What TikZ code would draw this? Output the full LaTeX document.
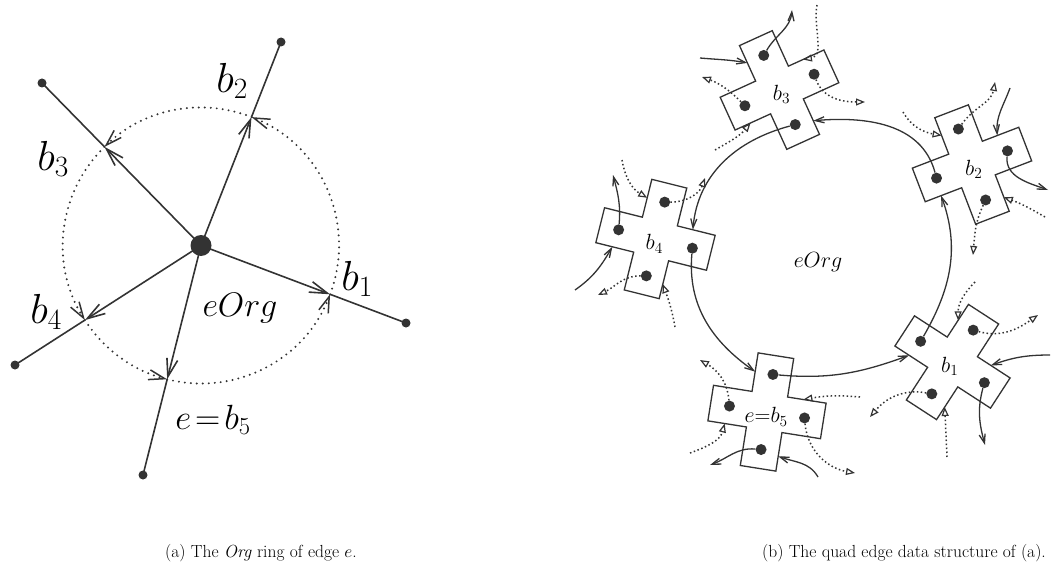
\documentclass[tikz,border=0pt]{standalone}
\usepackage{fix-cm}
\usepackage{tikz}
\usetikzlibrary{arrows.meta,calc}
\definecolor{ink}{HTML}{333333}
\tikzset{
  edgeline/.style={draw=ink,line width=1.6pt},
  edgetip/.style={-{Straight Barb[length=18pt,width=11pt]}},
  ringdot/.style={draw=ink,line width=2.2pt,dash pattern=on 0pt off 6pt,line cap=round,
                  -{Straight Barb[length=16pt,width=10pt,line width=1.5pt,line cap=butt]}},
  vertex/.style={circle,fill=ink,inner sep=0pt,minimum size=9pt},
  origin/.style={circle,fill=ink,inner sep=0pt,minimum size=21pt},
  biglabel/.style={inner sep=0pt,font=\fontsize{42}{44}\selectfont},
  midlabel/.style={inner sep=0pt,font=\fontsize{35}{37}\selectfont},
  orglabel/.style={inner sep=0pt,font=\fontsize{34}{36}\selectfont},
  qlabel/.style={inner sep=0pt,font=\fontsize{22}{24}\selectfont},
  captext/.style={inner sep=0pt,font=\fontsize{17.5}{20}\selectfont},
  crossline/.style={draw=ink,line width=1.3pt,fill=white},
  qdot/.style={circle,fill=ink,inner sep=0pt,minimum size=11pt},
  primal/.style={draw=ink,line width=1.3pt,-{Straight Barb[length=9pt,width=6pt]}},
  dual/.style={draw=ink,line width=1.5pt,dash pattern=on 1.5pt off 2.5pt,
               -{Triangle[open,length=9pt,width=7pt,line width=1.2pt]}},
  pics/qcross/.style={code={
    \draw[crossline] (-18,57) -- (18,57) -- (18,18) -- (57,18) -- (57,-18) -- (18,-18)
      -- (18,-57) -- (-18,-57) -- (-18,-18) -- (-57,-18) -- (-57,18) -- (-18,18) -- cycle;
    \node[qdot] (-n) at (0,38) {};
    \node[qdot] (-e) at (38,0) {};
    \node[qdot] (-s) at (0,-38) {};
    \node[qdot] (-w) at (-38,0) {};
    % landing points, one on the ccw side of each arm
    \coordinate (-nin) at (-18,38);
    \coordinate (-ein) at (34,18);
    \coordinate (-sin) at (18,-42);
    \coordinate (-win) at (-40,-18);
    \node[qlabel] (-l) at (0,-5) {#1};
  }},
}

\begin{document}
\begin{tikzpicture}[x=1pt,y=1pt]
  \useasboundingbox (0,0) rectangle (1053,-578);

  % (a) the Org ring
  \node[origin] (o) at (201,-245.5) {};
  \node[vertex] (p1) at (406,-323) {};
  \node[vertex] (p2) at (281,-42) {};
  \node[vertex] (p3) at (42,-83) {};
  \node[vertex] (p4) at (15,-365) {};
  \node[vertex] (p5) at (143,-475) {};
  \foreach \i in {1,...,5} {
    \coordinate (x\i) at ($(o.center)!138pt!(p\i.center)$);
    \draw[edgeline,edgetip] (o.center) -- (x\i);
    \draw[edgeline] (x\i) -- (p\i.center);
  }
  \foreach \a/\b in {-104.2/-20.7,-20.7/68.5,68.5/134.4,134.4/212.7,212.7/255.8}
    \draw[ringdot] ([shift={(\a:138)}]o.center) arc[start angle=\a,end angle=\b,radius=138];
  \node[biglabel] (l1) at (357,-279) {$b_1$};
  \node[biglabel] (l2) at (232,-81) {$b_2$};
  \node[biglabel] (l3) at (53,-159) {$b_3$};
  \node[biglabel] (l4) at (46,-312) {$b_4$};
  \node[midlabel] (l5) at (213,-420) {$e\!=\!b_5$};
  \node[orglabel] (lorg) at (240,-308) {$eOrg$};
  \node[captext] (capa) at (261,-553) {(a) The \textit{Org} ring of edge $e$.};

  % (b) the quad edge records
  \pic (b3) [rotate=24.5] at (779.5,-90) {qcross={$b_3$}};
  \pic (b2) [rotate=21] at (972,-164.5) {qcross={$b_2$}};
  \pic (b1) [rotate=-33] at (952.5,-362) {qcross={$b_1$}};
  \pic (b4) [rotate=-14] at (655.5,-239) {qcross={$b_4$}};
  \pic (b5) [rotate=-9] at (767,-412) {qcross={$e{=}b_5$}};
  \node[qlabel] (rorg) at (818,-262) {$eOrg$};
  \node[captext] (capb) at (904,-553) {(b) The quad edge data structure of (a).};

  \foreach \n/\x/\y in {o3n/792/-10,o3e/865/-102,o3w/702/-77,i3n/700/-58,i3e/817/-5,i3w/715/-150,
      o2n/995/-82,o2e/1048/-190,o2s/973/-255,i2n/903/-112,i2e/1010/-88,i2s/1045/-217,
      o1n/1038/-315,o1e/985/-445,o1s/870/-417,i1n/975/-282,i1e/1050/-355,i1s/947/-457,
      o4n/705/-178,o4s/598/-295,o4w/613/-175,i4n/622/-160,i4w/575/-290,i4s/675/-327,
      o5e/855/-473,o5s/710/-465,o5w/700/-360,i5e/860/-397,i5s/818/-477,i5w/690/-453}
    \coordinate (\n) at (\x,\y);

  % the ring itself
  \draw[primal] (b5-n) to[out=-5,in=200] (b1-win);
  \draw[primal] (b1-w) to[out=60,in=-70] (b2-win);
  \draw[primal] (b2-w) to[out=105,in=5] (b3-sin);
  \draw[primal] (b3-s) to[out=195,in=85] (b4-ein);
  \draw[primal] (b4-e) to[out=-95,in=145] (b5-nin);

  % b3
  \draw[primal] (b3-n) to[out=60,in=-95] (o3n);
  \draw[dual] (b3-e) to[out=-70,in=180] (o3e);
  \draw[dual] (b3-w) to[out=135,in=-20] (o3w);
  \draw[primal] (i3n) to[out=-5,in=170] (b3-nin);
  \draw[dual] (i3e) to[out=-100,in=10] (b3-ein);
  \draw[dual] (i3w) to[out=30,in=-130] (b3-win);
  % b2
  \draw[dual] (b2-n) to[out=55,in=-100] (o2n);
  \draw[primal] (b2-e) to[out=-95,in=160] (o2e);
  \draw[dual] (b2-s) to[out=-115,in=85] (o2s);
  \draw[dual] (i2n) to[out=-60,in=170] (b2-nin);
  \draw[primal] (i2e) to[out=-110,in=95] (b2-ein);
  \draw[dual] (i2s) to[out=150,in=-20] (b2-sin);
  % b1
  \draw[dual] (b1-n) to[out=-15,in=-145] (o1n);
  \draw[primal] (b1-e) to[out=-105,in=105] (o1e);
  \draw[dual] (b1-s) to[out=170,in=50] (o1s);
  \draw[dual] (i1n) to[out=-135,in=90] (b1-nin);
  \draw[primal] (i1e) to[out=180,in=20] (b1-ein);
  \draw[dual] (i1s) -- (b1-sin);
  % b4
  \draw[dual] (b4-n) to[out=0,in=-110] (o4n);
  \draw[dual] (b4-s) to[out=180,in=25] (o4s);
  \draw[primal] (b4-w) to[out=85,in=-75] (o4w);
  \draw[dual] (i4n) to[out=-80,in=150] (b4-nin);
  \draw[primal] (i4w) to[out=35,in=-120] (b4-win);
  \draw[dual] (i4s) to[out=100,in=-70] (b4-sin);
  % b5
  \draw[dual] (b5-e) to[out=-85,in=170] (o5e);
  \draw[primal] (b5-s) to[out=175,in=20] (o5s);
  \draw[dual] (b5-w) to[out=95,in=-30] (o5w);
  \draw[dual] (i5e) to[out=175,in=10] (b5-ein);
  \draw[primal] (i5s) to[out=120,in=-20] (b5-sin);
  \draw[dual] (i5w) to[out=20,in=-105] (b5-win);
\end{tikzpicture}
\end{document}
